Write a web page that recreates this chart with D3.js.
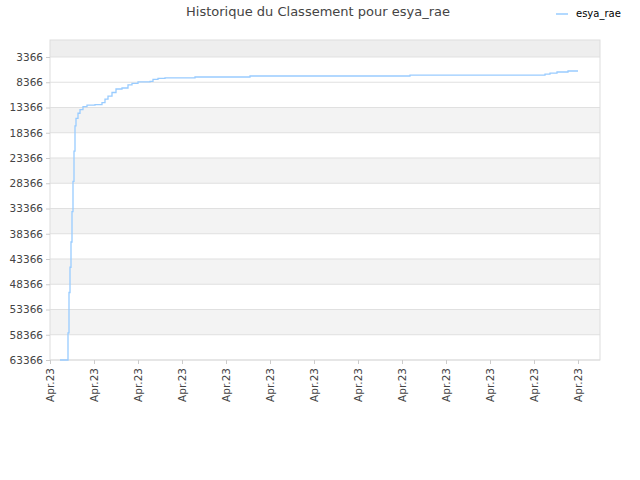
<!DOCTYPE html><html><head><meta charset="utf-8"><script src="https://cdn.jsdelivr.net/npm/d3@7"></script>
<style>body{margin:0;background:#fff}text{font-family:"DejaVu Sans",sans-serif}</style></head><body><svg id="c" width="640" height="480"></svg>
<script>
const days=[10,17,18,19,20,21,22,23,24,25,26,28,30,33,37,45,52,55,58,62,66,72,78,82,88,100,103,108,115,145,200,360,495,500,507,518,528];
const ranks=[63366,63366,58000,50000,45000,40000,34000,28000,22000,17000,15500,14500,13800,13200,12900,12800,12400,11700,11100,10400,9700,9500,8900,8600,8300,8200,7800,7600,7500,7330,7130,6940,6740,6540,6340,6140,6140];
const yTicks=[3366,8366,13366,18366,23366,28366,33366,38366,43366,48366,53366,58366,63366];
const xTickDays=[0,44,88,132,176,220,264,308,352,396,440,484,528];
const xLabel="Apr.23";
const svg=d3.select("#c");
const L=50,R=600,T=40,B=360;
const x=d3.scaleLinear().domain([0,550]).range([L,R]);
const y=d3.scaleLinear().domain([0,63366]).range([T,B]);
const bands=[0].concat(yTicks.slice(0,-1));
bands.forEach((v,i)=>{const y0=i==0?0:v,y1=i==0?3366:v+5000;
 if(i==0||(i%2==1&&i>1)) svg.append("rect").attr("x",L).attr("width",R-L).attr("y",y(y0)).attr("height",y(y1)-y(y0)).attr("fill",i==0?"#eeeeee":"#f3f3f3");});
yTicks.forEach(v=>svg.append("line").attr("x1",L).attr("x2",R).attr("y1",y(v)).attr("y2",y(v)).attr("stroke","#e0e0e0"));
svg.append("rect").attr("x",L).attr("y",T).attr("width",R-L).attr("height",B-T).attr("fill","none").attr("stroke","#ddd");
const ya=svg.append("g").attr("transform",`translate(${L},0)`).call(d3.axisLeft(y).tickValues(yTicks).tickSize(4).tickFormat(d=>d));
ya.select(".domain").remove();ya.selectAll("line").attr("stroke","#ccc");ya.selectAll("text").attr("fill","#444").attr("font-size",10.5);
const xa=svg.append("g").attr("transform",`translate(0,${B})`).call(d3.axisBottom(x).tickValues(xTickDays).tickSize(4).tickFormat(()=>xLabel));
xa.select(".domain").remove();xa.selectAll("line").attr("stroke","#ccc");
xa.selectAll("text").attr("fill","#444").attr("font-size",10.5).attr("text-anchor","end").attr("transform","rotate(-90)").attr("x",-8).attr("y",0).attr("dy","0.35em");
const data=days.map((d,i)=>[d,ranks[i]]);
svg.append("path").datum(data).attr("fill","none").attr("stroke","#99ccff").attr("stroke-width",1.3)
 .attr("d",d3.line().x(d=>x(d[0])).y(d=>y(d[1])).curve(d3.curveStepAfter));
svg.append("text").attr("x",318).attr("y",16).attr("text-anchor","middle").attr("font-size",13).attr("fill","#444").text("Historique du Classement pour esya_rae");
svg.append("line").attr("x1",556).attr("x2",568).attr("y1",14).attr("y2",14).attr("stroke","#99ccff").attr("stroke-width",1.5);
svg.append("text").attr("x",576).attr("y",17).attr("font-size",10).attr("fill","#000").text("esya_rae");
</script></body></html>
